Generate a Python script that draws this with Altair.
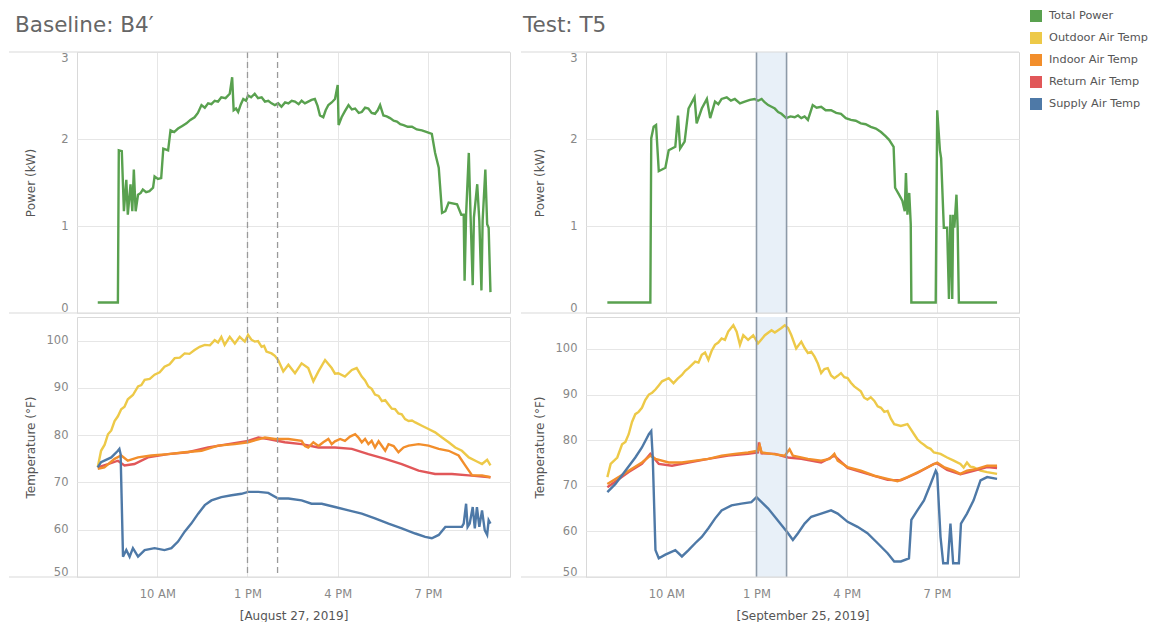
import altair as alt
import pandas as pd

SERIES = ["Total Power", "Outdoor Air Temp", "Indoor Air Temp", "Return Air Temp", "Supply Air Temp"]
COLORS = ["#59a14f", "#edc948", "#f28e2b", "#e15759", "#4e79a7"]
HOUR_TICKS = [10, 13, 16, 19]
POWER_TICKS = [0, 1, 2, 3]
TEMP_TICKS = [50, 60, 70, 80, 90, 100]
X_DOMAIN = [7.33, 21.73]

PANEL_TITLES = ["Baseline: B4\u2032", "Test: T5"]
DATE_LABELS = ["[August 27, 2019]", "[September 25, 2019]"]
TEMP_MAX = [105, 107]
BASE_WINDOW = [13.0, 14.0]
TEST_WINDOW = [13.0, 14.0]

# (hour of day, kW)
B_POWER = [(8.02, 0.12), (8.69, 0.12), (8.72, 1.87), (8.82, 1.86), (8.89, 1.17), (8.97, 1.53), (9.02, 1.13),
           (9.11, 1.48), (9.17, 1.17), (9.22, 1.65), (9.28, 1.17), (9.36, 1.36), (9.45, 1.38), (9.52, 1.42),
           (9.63, 1.39), (9.74, 1.40), (9.86, 1.44), (9.91, 1.57), (10.02, 1.54), (10.13, 1.55), (10.2, 1.89),
           (10.36, 1.87), (10.44, 2.10), (10.56, 2.08), (10.69, 2.12), (10.83, 2.15), (10.97, 2.18), (11.1, 2.22),
           (11.24, 2.25), (11.35, 2.30), (11.47, 2.39), (11.58, 2.36), (11.69, 2.41), (11.8, 2.40), (11.91, 2.44),
           (12.02, 2.43), (12.13, 2.48), (12.27, 2.47), (12.41, 2.52), (12.49, 2.71), (12.54, 2.33), (12.62, 2.35),
           (12.69, 2.31), (12.78, 2.40), (12.86, 2.46), (12.95, 2.44), (13.02, 2.50), (13.12, 2.48), (13.24, 2.52),
           (13.35, 2.47), (13.47, 2.48), (13.58, 2.43), (13.69, 2.44), (13.8, 2.41), (13.91, 2.39), (14.02, 2.41),
           (14.13, 2.37), (14.25, 2.42), (14.36, 2.41), (14.47, 2.44), (14.58, 2.43), (14.7, 2.40), (14.8, 2.44),
           (14.91, 2.41), (15.02, 2.43), (15.13, 2.45), (15.24, 2.46), (15.33, 2.38), (15.41, 2.27), (15.52, 2.25),
           (15.6, 2.33), (15.69, 2.39), (15.8, 2.42), (15.91, 2.46), (16.0, 2.62), (16.03, 2.16), (16.13, 2.25),
           (16.24, 2.32), (16.36, 2.39), (16.47, 2.34), (16.58, 2.35), (16.7, 2.30), (16.8, 2.31), (16.91, 2.36),
           (17.02, 2.35), (17.13, 2.30), (17.24, 2.29), (17.33, 2.33), (17.41, 2.39), (17.52, 2.27), (17.63, 2.26),
           (17.74, 2.24), (17.86, 2.21), (17.97, 2.20), (18.08, 2.17), (18.19, 2.16), (18.33, 2.14), (18.47, 2.14),
           (18.63, 2.11), (18.8, 2.10), (18.97, 2.08), (19.13, 2.06), (19.24, 1.84), (19.36, 1.67), (19.47, 1.15),
           (19.58, 1.17), (19.69, 1.27), (19.97, 1.25), (20.11, 1.13), (20.19, 1.13), (20.22, 0.37), (20.27, 1.13),
           (20.36, 1.84), (20.42, 1.10), (20.49, 0.32), (20.53, 1.10), (20.64, 1.48), (20.71, 1.06), (20.78, 0.26),
           (20.82, 1.06), (20.91, 1.65), (20.97, 1.02), (21.02, 0.98), (21.08, 0.24)]

T_POWER = [(8.04, 0.12), (9.47, 0.12), (9.5, 2.01), (9.58, 2.14), (9.66, 2.16), (9.75, 1.63), (9.97, 1.67),
           (10.08, 1.87), (10.3, 1.91), (10.39, 2.27), (10.46, 1.89), (10.61, 1.97), (10.74, 2.35), (10.94, 2.48),
           (11.01, 2.18), (11.18, 2.35), (11.35, 2.46), (11.46, 2.24), (11.62, 2.43), (11.73, 2.40), (11.84, 2.46),
           (12.01, 2.48), (12.15, 2.44), (12.28, 2.46), (12.45, 2.41), (12.61, 2.43), (12.78, 2.45), (12.94, 2.46),
           (13.05, 2.44), (13.17, 2.46), (13.28, 2.42), (13.39, 2.39), (13.5, 2.37), (13.61, 2.35), (13.72, 2.31),
           (13.83, 2.29), (13.99, 2.24), (14.13, 2.26), (14.27, 2.25), (14.38, 2.27), (14.49, 2.24), (14.6, 2.26),
           (14.71, 2.22), (14.87, 2.39), (15.0, 2.36), (15.15, 2.37), (15.3, 2.33), (15.48, 2.33), (15.65, 2.30),
           (15.81, 2.29), (15.97, 2.24), (16.14, 2.22), (16.3, 2.21), (16.47, 2.18), (16.63, 2.17), (16.8, 2.14),
           (16.97, 2.12), (17.14, 2.08), (17.3, 2.03), (17.41, 1.99), (17.56, 1.91), (17.61, 1.44), (17.74, 1.36),
           (17.85, 1.29), (17.93, 1.17), (17.97, 1.61), (18.02, 1.13), (18.08, 1.38), (18.13, 1.02), (18.15, 0.12),
           (18.96, 0.12), (19.01, 2.33), (19.1, 1.87), (19.14, 1.78), (19.23, 0.98), (19.34, 0.98), (19.4, 0.16),
           (19.45, 1.13), (19.51, 0.16), (19.54, 1.13), (19.58, 0.98), (19.65, 1.36), (19.69, 0.98), (19.73, 0.12),
           (21.0, 0.12)]

# (hour of day, deg F)
B_OUTDOOR = [(8.02, 73.2), (8.13, 76.7), (8.25, 78.0), (8.36, 80.2), (8.47, 81.0), (8.58, 83.0), (8.69, 84.0),
             (8.8, 85.5), (8.91, 86.0), (9.02, 87.6), (9.19, 88.5), (9.36, 90.3), (9.47, 90.6), (9.58, 91.7),
             (9.75, 91.9), (9.91, 92.8), (10.08, 93.3), (10.24, 94.5), (10.41, 95.0), (10.58, 96.3), (10.75, 96.4),
             (10.91, 97.3), (11.07, 97.2), (11.24, 98.0), (11.41, 98.7), (11.58, 99.1), (11.75, 99.0),
             (11.91, 100.1), (12.02, 99.6), (12.13, 100.8), (12.24, 99.1), (12.41, 100.8), (12.58, 99.4),
             (12.74, 100.8), (12.91, 99.8), (13.02, 101.2), (13.13, 100.2), (13.24, 99.8), (13.35, 99.9),
             (13.47, 98.7), (13.55, 98.9), (13.63, 97.7), (13.8, 97.3), (13.91, 96.8), (14.02, 95.9), (14.19, 93.5),
             (14.36, 94.9), (14.47, 94.0), (14.58, 93.1), (14.8, 95.2), (15.02, 94.2), (15.19, 91.4), (15.36, 93.5),
             (15.58, 95.9), (15.8, 94.2), (15.91, 93.0), (16.02, 93.1), (16.24, 92.4), (16.47, 93.8), (16.63, 94.2),
             (16.8, 92.4), (16.91, 91.6), (17.02, 90.3), (17.13, 89.8), (17.24, 88.6), (17.36, 88.3), (17.47, 87.2),
             (17.58, 87.4), (17.69, 86.5), (17.8, 85.6), (17.91, 85.5), (18.02, 84.6), (18.13, 84.4), (18.24, 83.4),
             (18.36, 83.0), (18.47, 83.1), (18.58, 82.7), (18.8, 82.0), (19.02, 81.3), (19.24, 80.6), (19.47, 79.5),
             (19.69, 78.5), (19.91, 77.4), (20.13, 76.7), (20.36, 75.3), (20.58, 74.6), (20.8, 73.9), (20.97, 74.8),
             (21.08, 73.6)]
B_RETURN = [(8.02, 73.2), (8.36, 73.9), (8.69, 74.6), (8.91, 73.6), (9.24, 73.9), (9.69, 75.3), (10.36, 76.0),
            (11.02, 76.4), (11.69, 77.4), (12.36, 78.1), (13.02, 78.8), (13.36, 79.5), (13.69, 79.2), (14.24, 78.5),
            (14.8, 78.1), (15.36, 77.4), (15.91, 77.4), (16.47, 77.1), (17.02, 76.0), (17.58, 75.0), (18.13, 73.9),
            (18.69, 72.5), (19.24, 71.8), (19.8, 71.8), (20.36, 71.5), (21.08, 71.1)]
B_INDOOR = [(8.02, 72.9), (8.24, 73.2), (8.58, 75.0), (8.8, 75.7), (9.02, 74.6), (9.36, 75.3), (9.8, 75.7),
            (10.36, 76.0), (10.91, 76.4), (11.47, 76.7), (12.02, 77.8), (12.58, 78.1), (13.02, 78.5), (13.58, 79.5),
            (13.91, 79.2), (14.36, 79.2), (14.8, 78.8), (14.91, 77.7), (15.02, 77.4), (15.19, 78.5), (15.36, 77.7),
            (15.52, 78.5), (15.69, 79.2), (15.8, 78.1), (15.91, 78.7), (16.08, 79.2), (16.24, 78.8), (16.41, 79.7),
            (16.58, 80.2), (16.69, 79.5), (16.8, 78.5), (16.91, 79.2), (17.02, 78.1), (17.13, 78.8), (17.24, 77.4),
            (17.36, 78.7), (17.47, 77.7), (17.58, 76.7), (17.69, 78.1), (17.86, 77.7), (18.02, 76.4), (18.19, 77.4),
            (18.36, 77.8), (18.69, 78.1), (19.02, 77.8), (19.36, 77.1), (19.69, 76.7), (20.02, 75.7), (20.24, 73.6),
            (20.47, 71.5), (20.8, 71.5), (21.08, 71.1)]
B_SUPPLY = [(8.02, 73.2), (8.13, 74.3), (8.47, 75.3), (8.69, 76.7), (8.74, 77.1), (8.78, 76.0), (8.86, 54.3),
            (8.97, 55.7), (9.08, 54.3), (9.19, 56.1), (9.36, 54.3), (9.58, 55.7), (9.91, 56.1), (10.24, 55.7),
            (10.47, 56.1), (10.69, 57.5), (10.91, 59.6), (11.13, 61.3), (11.36, 63.4), (11.58, 65.2), (11.8, 66.2),
            (12.13, 66.9), (12.47, 67.3), (12.8, 67.6), (13.02, 68.0), (13.36, 68.0), (13.69, 67.8), (14.02, 66.6),
            (14.36, 66.6), (14.8, 66.2), (15.13, 65.5), (15.47, 65.5), (15.91, 64.8), (16.36, 64.1), (16.8, 63.4),
            (17.24, 62.4), (17.69, 61.3), (18.13, 60.3), (18.58, 59.2), (18.91, 58.5), (19.13, 58.2), (19.36, 58.9),
            (19.58, 60.6), (19.91, 60.6), (20.13, 60.6), (20.19, 61.3), (20.27, 65.5), (20.32, 60.6), (20.39, 61.3),
            (20.49, 64.8), (20.56, 60.3), (20.63, 64.8), (20.71, 60.6), (20.8, 64.1), (20.89, 59.9), (20.97, 58.9),
            (21.02, 62.0), (21.08, 61.3)]

T_OUTDOOR = [(8.04, 71.9), (8.15, 74.8), (8.37, 76.2), (8.53, 79.1), (8.64, 79.6), (8.75, 81.3), (8.86, 84.0),
             (8.97, 85.7), (9.08, 86.2), (9.19, 87.1), (9.3, 88.8), (9.42, 90.0), (9.53, 90.4), (9.64, 91.1),
             (9.75, 92.0), (9.86, 92.9), (10.08, 93.6), (10.24, 92.5), (10.38, 93.5), (10.52, 94.3), (10.63, 95.2),
             (10.74, 95.8), (10.85, 96.5), (10.96, 97.2), (11.07, 97.0), (11.18, 98.7), (11.29, 99.2), (11.4, 97.6),
             (11.51, 99.6), (11.62, 100.9), (11.73, 101.4), (11.84, 102.3), (11.95, 102.0), (12.06, 103.8),
             (12.23, 105.2), (12.34, 103.8), (12.45, 100.9), (12.56, 103.0), (12.72, 102.0), (12.89, 103.0),
             (13.05, 101.2), (13.28, 103.0), (13.5, 104.1), (13.61, 103.6), (13.72, 104.1), (13.83, 104.6),
             (13.94, 105.2), (14.05, 104.6), (14.16, 103.0), (14.32, 100.1), (14.49, 101.6), (14.6, 100.2),
             (14.71, 99.1), (14.82, 99.4), (14.93, 98.3), (15.04, 96.8), (15.15, 94.7), (15.26, 95.6), (15.37, 95.8),
             (15.48, 94.2), (15.59, 93.6), (15.7, 94.1), (15.81, 94.7), (15.92, 93.8), (16.03, 93.6), (16.14, 92.6),
             (16.25, 91.8), (16.47, 90.7), (16.58, 89.3), (16.69, 88.9), (16.8, 89.4), (16.92, 88.6), (17.03, 87.4),
             (17.14, 87.1), (17.25, 86.2), (17.36, 86.4), (17.47, 84.7), (17.58, 83.5), (17.8, 83.1), (18.02, 83.5),
             (18.13, 82.4), (18.24, 81.3), (18.35, 80.2), (18.46, 79.5), (18.57, 79.0), (18.68, 78.4), (18.79, 78.1),
             (18.9, 77.3), (19.12, 77.0), (19.34, 76.2), (19.56, 75.5), (19.78, 74.8), (19.89, 74.0), (20.0, 75.1),
             (20.11, 74.2), (20.22, 74.1), (20.45, 73.3), (20.67, 73.0), (21.0, 72.6)]
T_RETURN = [(8.04, 69.7), (8.37, 71.2), (8.75, 73.0), (9.19, 74.8), (9.47, 77.0), (9.75, 74.8), (10.19, 74.4),
            (10.74, 75.1), (11.4, 75.9), (12.06, 76.6), (12.72, 77.0), (13.05, 77.3), (13.08, 79.5), (13.17, 77.1),
            (13.61, 77.0), (14.05, 76.2), (14.49, 75.9), (15.15, 75.1), (15.59, 76.6), (16.03, 73.9), (16.69, 72.6),
            (17.36, 71.3), (17.8, 71.2), (18.35, 72.8), (18.9, 74.8), (19.01, 74.9), (19.34, 73.5), (19.78, 72.5),
            (20.22, 73.3), (20.67, 74.1), (21.0, 73.9)]
T_INDOOR = [(8.04, 70.4), (8.31, 71.5), (8.75, 73.3), (9.19, 75.1), (9.47, 76.6), (9.64, 75.9), (10.08, 75.1),
            (10.52, 75.1), (10.96, 75.5), (11.4, 75.9), (11.84, 76.6), (12.28, 77.0), (12.72, 77.3), (13.05, 77.7),
            (13.11, 78.8), (13.17, 77.3), (13.5, 77.0), (13.94, 76.6), (14.1, 78.0), (14.21, 76.6), (14.71, 75.9),
            (15.15, 75.5), (15.43, 75.9), (15.59, 77.0), (15.7, 75.5), (16.03, 74.1), (16.47, 73.3), (16.92, 72.2),
            (17.36, 71.5), (17.69, 71.0), (18.02, 71.9), (18.46, 73.3), (18.79, 74.4), (19.01, 75.1), (19.23, 74.1),
            (19.56, 73.3), (19.78, 72.6), (20.0, 73.3), (20.33, 73.7), (20.67, 74.4), (21.0, 74.4)]
T_SUPPLY = [(8.04, 68.6), (8.31, 70.4), (8.64, 73.3), (8.97, 76.2), (9.19, 78.4), (9.42, 81.3), (9.5, 82.0),
            (9.55, 76.2), (9.64, 55.9), (9.75, 54.1), (9.97, 54.9), (10.3, 55.9), (10.52, 54.5), (10.74, 55.9),
            (10.96, 57.4), (11.18, 58.8), (11.4, 60.7), (11.62, 62.8), (11.84, 64.6), (12.17, 65.7), (12.5, 66.1),
            (12.83, 66.4), (13.0, 67.5), (13.17, 66.4), (13.39, 65.0), (13.61, 63.2), (13.83, 61.4), (14.05, 59.6),
            (14.21, 58.1), (14.38, 59.6), (14.6, 61.7), (14.82, 63.2), (15.15, 63.9), (15.48, 64.6), (15.7, 63.9),
            (16.03, 62.1), (16.36, 61.0), (16.69, 59.6), (17.03, 57.4), (17.36, 55.2), (17.58, 53.4), (17.8, 53.4),
            (18.07, 54.1), (18.15, 62.5), (18.35, 64.6), (18.57, 66.8), (18.79, 70.4), (18.96, 73.3), (19.01, 72.6),
            (19.12, 58.8), (19.21, 53.0), (19.36, 53.0), (19.45, 61.7), (19.54, 53.0), (19.73, 53.0), (19.8, 61.7),
            (20.0, 63.9), (20.22, 66.8), (20.45, 71.2), (20.67, 71.9), (21.0, 71.5)]

PLOT_W = 433
POWER_H = 261
TEMP_H = 260
FONT = "DejaVu Sans"
BORDER = "#d9d9d9"


def to_frame(series_map):
    rows = []
    for name, pts in series_map:
        for i, (h, v) in enumerate(pts):
            rows.append({"hour": h, "value": v, "series": name, "idx": i})
    return pd.DataFrame(rows)


color = alt.Color(
    "series:N",
    scale=alt.Scale(domain=SERIES, range=COLORS),
    legend=alt.Legend(
        title=None, orient="none", legendX=953, legendY=-42,
        symbolType="square", symbolSize=36, symbolStrokeWidth=6,
        labelFontSize=11.3, labelColor="#555", labelFont=FONT, rowPadding=-8, labelOffset=7,
    ),
)


def x_enc(with_labels, date_label):
    if with_labels:
        axis = alt.Axis(values=HOUR_TICKS, grid=True, domain=False, ticks=False,
                        labelExpr="(datum.value % 12 == 0 ? 12 : datum.value % 12) + (datum.value < 12 ? ' AM' : ' PM')",
                        labelColor="#888", labelFontSize=11.5, labelPadding=11,
                        title=date_label, titleFontSize=12, titleColor="#555", titleFontWeight="normal",
                        titlePadding=11)
    else:
        axis = alt.Axis(values=HOUR_TICKS, grid=True, domain=False, ticks=False, labels=False, title=None)
    return alt.X("hour:Q", scale=alt.Scale(domain=X_DOMAIN, nice=False, zero=False), axis=axis)


def y_axis(values, title):
    return alt.Axis(values=values, grid=True, domain=False, ticks=False, labelFlush=True,
                    labelColor="#888", labelFontSize=11.5, labelPadding=9,
                    title=title, titleFontSize=12, titleColor="#555", titleFontWeight="normal",
                    titleX=-47, titleAngle=270, titleAlign="center", titleBaseline="middle")


def separators(ys, left):
    base = alt.Chart(pd.DataFrame({"k": [0]}))
    return [base.mark_rule(color=BORDER, strokeWidth=1).encode(
        x=alt.value(left), x2=alt.value(PLOT_W), y=alt.value(y)) for y in ys]


def window_layers(window, shaded):
    wdf = pd.DataFrame({"start": [window[0]], "end": [window[1]]})
    edges = pd.DataFrame({"hour": window})
    xs = alt.Scale(domain=X_DOMAIN, nice=False, zero=False)
    if shaded:
        band = alt.Chart(wdf).mark_rect(color="#e8f0f8").encode(
            x=alt.X("start:Q", scale=xs), x2="end:Q")
        rules = alt.Chart(edges).mark_rule(color="#8d9aa8", strokeWidth=1.6).encode(
            x=alt.X("hour:Q", scale=xs))
        return [band], [rules]
    rules = alt.Chart(edges).mark_rule(color="#9a9a9a", strokeWidth=1.3, strokeDash=[6, 4]).encode(
        x=alt.X("hour:Q", scale=xs))
    return [], [rules]


def column(title, power, temps, tmax, window, shaded, date_label, left, title_dx):
    pdf = to_frame([("Total Power", power)])
    tdf = to_frame(temps)
    below, above = window_layers(window, shaded)
    p_line = alt.Chart(pdf).mark_line(strokeWidth=2.4).encode(
        x=x_enc(False, date_label),
        y=alt.Y("value:Q", scale=alt.Scale(domain=[0, 3], nice=False), axis=y_axis(POWER_TICKS, "Power (kW)")),
        color=color, order="idx:Q")
    t_line = alt.Chart(tdf).mark_line(strokeWidth=2.4).encode(
        x=x_enc(True, date_label),
        y=alt.Y("value:Q", scale=alt.Scale(domain=[50, tmax], nice=False, zero=False),
                axis=y_axis(TEMP_TICKS, "Temperature (\u00b0F)")),
        color=color, order="idx:Q")
    pchart = alt.layer(*below, p_line, *above, *separators([0, POWER_H], left)).properties(
        width=PLOT_W, height=POWER_H)
    tchart = alt.layer(*below, t_line, *above, *separators([TEMP_H], left)).properties(
        width=PLOT_W, height=TEMP_H)
    return alt.vconcat(pchart, tchart, spacing=0).properties(
        title=alt.TitleParams(title, anchor="start", fontSize=21.5, color="#666", font=FONT,
                              fontWeight="normal", offset=14, dx=title_dx))


left = column(PANEL_TITLES[0], B_POWER,
              [("Outdoor Air Temp", B_OUTDOOR), ("Return Air Temp", B_RETURN),
               ("Indoor Air Temp", B_INDOOR), ("Supply Air Temp", B_SUPPLY)],
              TEMP_MAX[0], BASE_WINDOW, False, DATE_LABELS[0], -68, 7)
right = column(PANEL_TITLES[1], T_POWER,
               [("Outdoor Air Temp", T_OUTDOOR), ("Return Air Temp", T_RETURN),
                ("Indoor Air Temp", T_INDOOR), ("Supply Air Temp", T_SUPPLY)],
               TEMP_MAX[1], TEST_WINDOW, True, DATE_LABELS[1], -65, 3)

chart = alt.hconcat(left, right, spacing=9).resolve_scale(color="shared").resolve_legend(
    color="shared").properties(padding={"left": 0, "top": 2, "right": 0, "bottom": 0}).configure(
    font=FONT).configure_view(stroke=BORDER).configure_axis(
    gridColor="#e6e6e6", labelFont=FONT, titleFont=FONT)

chart.save("out.html", embed_options={"renderer": "svg", "actions": False})
